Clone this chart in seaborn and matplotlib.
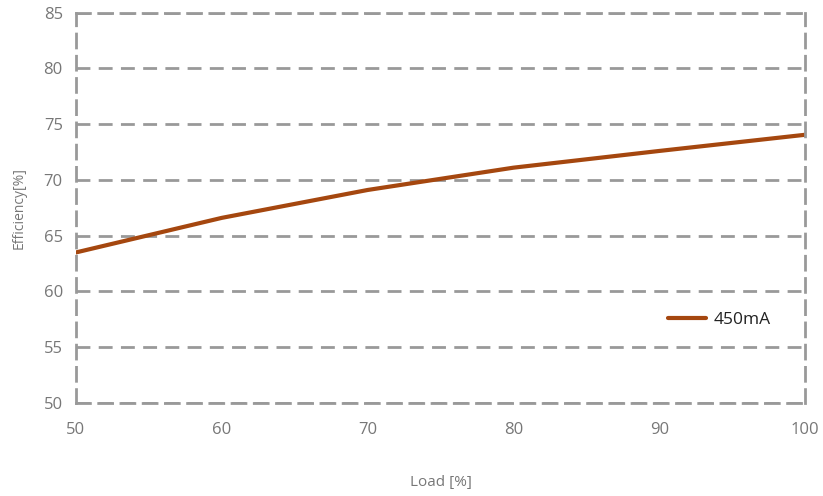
import matplotlib.pyplot as plt
import seaborn as sns
import pandas as pd

load = [50, 60, 70, 80, 90, 100]
efficiency = [63.5, 66.6, 69.1, 71.1, 72.6, 74.05]
series_name = "450mA"

df = pd.DataFrame({"Load": load, "Efficiency": efficiency, "Series": series_name})

sns.set_style("white")
plt.rcParams["font.family"] = ["Open Sans", "DejaVu Sans"]

grid_col = "#999999"
text_col = "#777777"

fig = plt.figure(figsize=(8.23, 4.96), dpi=100)
ax = fig.add_axes([0.0923, 0.1875, 0.886, 0.787])

sns.lineplot(data=df, x="Load", y="Efficiency", hue="Series",
             palette=["#A5470F"], linewidth=3, ax=ax)

ax.set_xlim(50, 100)
ax.set_ylim(50, 85)
ax.set_xticks(range(50, 101, 10))
ax.set_yticks(range(50, 86, 5))

ax.grid(True, axis="y", color=grid_col, linestyle=(0, (5, 3)), linewidth=2)
ax.set_axisbelow(True)
for side in ["left", "right", "top", "bottom"]:
    ax.spines[side].set_visible(True)
    ax.spines[side].set_color(grid_col)
    ax.spines[side].set_linewidth(2)
    ax.spines[side].set_linestyle((0, (5, 3)))

ax.tick_params(axis="both", colors=grid_col, labelcolor=text_col,
               labelsize=12, length=6, width=1.2, direction="out")
ax.tick_params(axis="x", pad=8)

ax.set_xlabel("Load [%]", color=text_col, fontsize=11, labelpad=26)
ax.set_ylabel("Efficiency[%]", color=text_col, fontsize=10, labelpad=12)

leg = ax.legend(loc="center left", bbox_to_anchor=(0.79, 0.213), frameon=False,
                fontsize=12.5, handlelength=2.2, handletextpad=0.45, title=None)
for t in leg.get_texts():
    t.set_color("#222222")

fig.savefig("out.png", dpi=100)
